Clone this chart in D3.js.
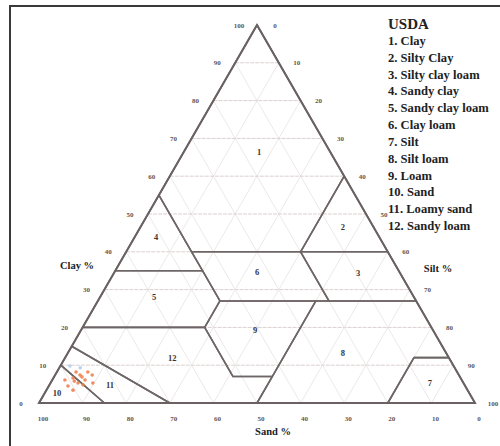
<!DOCTYPE html>
<html>
<meta charset='utf-8'>
<head>
<title>USDA soil texture triangle</title>
<script src='https://d3js.org/d3.v7.min.js'></script>
<style>
body { margin: 0; background: #fff; }
</style>
</head>
<body>
<div id='chart'></div>
<script>
// tick values on the three sides (percent)
var tickValues = [0, 10, 20, 30, 40, 50, 60, 70, 80, 90, 100]
var gridValues = [10, 20, 30, 40, 50, 60, 70, 80, 90]

var classNames = ['Clay', 'Silty Clay', 'Silty clay loam', 'Sandy clay', 'Sandy clay loam',
  'Clay loam', 'Silt', 'Silt loam', 'Loam', 'Sand', 'Loamy sand', 'Sandy loam']

// class polygons, each vertex as [clay %, silt %]
var classPolygons = [
  [[100, 0], [60, 40], [40, 40], [40, 15], [55, 0]],
  [[60, 40], [40, 60], [40, 40]],
  [[40, 60], [27, 73], [27, 53], [40, 40]],
  [[55, 0], [35, 0], [35, 20], [40, 15]],
  [[35, 0], [20, 0], [20, 28], [27, 28], [35, 20]],
  [[40, 15], [40, 40], [27, 53], [27, 28], [35, 20]],
  [[0, 100], [12, 88], [12, 80], [0, 80]],
  [[27, 73], [12, 88], [12, 80], [0, 80], [0, 50], [7, 50], [27, 50]],
  [[27, 50], [27, 28], [20, 28], [7, 41], [7, 50]],
  [[0, 0], [0, 15], [10, 0]],
  [[10, 0], [0, 15], [0, 30], [15, 0]],
  [[15, 0], [0, 30], [0, 50], [7, 50], [7, 41], [20, 28], [20, 0]]
]

// where each class number sits, [clay %, silt %]
var labelClay = [66.4, 46.6, 34.4, 43.9, 28, 34.7, 5.3, 13.2, 19.3, 2.6, 4.8, 11.9]
var labelSilt = [17.3, 46.4, 56, 4.9, 12.4, 32.7, 87, 63.1, 39.9, 2.8, 13.9, 24.6]

// measured samples
var sampleClay = [6.1, 6.6, 7.4, 6.1, 7.4, 5.3, 3.4, 4.8, 5.3, 4.5, 8.2, 8.2, 5.8, 6.9]
var sampleSilt = [2.9, 4.5, 5.7, 7.5, 8.5, 9.7, 6.1, 7.7, 6.3, 4.4, 4.4, 7.1, 5.2, 6.4]
var blueClay = [9.8, 9.3]
var blueSilt = [2.2, 4.8]

var width = 500, height = 446

var svg = d3.select('#chart')
  .append('svg')
    .attr('width', width)
    .attr('height', height)

// frame (runs off the right and bottom of the picture)
svg.append('rect')
  .attr('x', 10).attr('y', 6)
  .attr('width', 500).attr('height', 460)
  .attr('fill', 'none')
  .attr('stroke', '#3a3a3a')
  .attr('stroke-width', 2)

var xs = d3.scaleLinear().domain([0, 100]).range([39, 475])
var ys = d3.scaleLinear().domain([0, 100]).range([403, 25])

function px(clay, silt) { return xs(silt + clay / 2) }
function py(clay) { return ys(clay) }

var g = svg.append('g')

// grid
gridValues.forEach(function(k) {
  // clay = k (horizontal)
  g.append('line')
    .attr('x1', px(k, 0)).attr('y1', py(k))
    .attr('x2', px(k, 100 - k)).attr('y2', py(k))
    .attr('stroke', '#dccfcf').attr('stroke-width', 1)
    .attr('stroke-dasharray', '4,1')
  // silt = k
  g.append('line')
    .attr('x1', px(100 - k, k)).attr('y1', py(100 - k))
    .attr('x2', px(0, k)).attr('y2', py(0))
    .attr('stroke', '#e6e2e2').attr('stroke-width', 0.8)
  // sand = k
  g.append('line')
    .attr('x1', px(100 - k, 0)).attr('y1', py(100 - k))
    .attr('x2', px(0, 100 - k)).attr('y2', py(0))
    .attr('stroke', '#e6e2e2').attr('stroke-width', 0.8)
})

var line = d3.line()
  .x(function(d) { return px(d[0], d[1]) })
  .y(function(d) { return py(d[0]) })

g.selectAll('.cls')
  .data(classPolygons)
  .enter()
  .append('path')
    .attr('class', 'cls')
    .attr('d', function(d) { return line(d) + 'Z' })
    .attr('fill', 'none')
    .attr('stroke', '#6e6666')
    .attr('stroke-width', 1.6)
    .attr('stroke-linejoin', 'round')

// outer triangle
g.append('path')
  .attr('d', line([[0, 0], [100, 0], [0, 100]]) + 'Z')
  .attr('fill', 'none')
  .attr('stroke', '#6a6262')
  .attr('stroke-width', 2)

// samples
g.selectAll('.blue')
  .data(blueClay)
  .enter()
  .append('circle')
    .attr('cx', function(d, i) { return px(d, blueSilt[i]) })
    .attr('cy', function(d) { return py(d) })
    .attr('r', 1.8)
    .attr('fill', '#b9d3ea')
g.selectAll('.pt')
  .data(sampleClay)
  .enter()
  .append('circle')
    .attr('cx', function(d, i) { return px(d, sampleSilt[i]) })
    .attr('cy', function(d) { return py(d) })
    .attr('r', 1.8)
    .attr('fill', '#ef7a45')
    .attr('opacity', 0.85)

// tick labels
var tickStyle = 'bold 7px Liberation Serif'
g.selectAll('.clayTick')
  .data(tickValues)
  .enter()
  .append('text')
    .attr('x', function(d) { return px(d, 0) - 18 })
    .attr('y', function(d) { return py(d) + 2.5 })
    .attr('text-anchor', 'middle')
    .style('font', tickStyle)
    .attr('fill', '#5e5656')
    .text(function(d) { return d })
g.selectAll('.siltTick')
  .data(tickValues)
  .enter()
  .append('text')
    .attr('x', function(d) { return px(100 - d, d) + 18 })
    .attr('y', function(d) { return py(100 - d) + 2.5 })
    .attr('text-anchor', 'middle')
    .style('font', tickStyle)
    .attr('fill', '#5e5656')
    .text(function(d) { return d })
g.selectAll('.sandTick')
  .data(tickValues)
  .enter()
  .append('text')
    .attr('x', function(d) { return px(0, 100 - d) + 4 })
    .attr('y', py(0) + 17.5)
    .attr('text-anchor', 'middle')
    .style('font', tickStyle)
    .attr('fill', '#5e5656')
    .text(function(d) { return d })

// axis titles
var titleStyle = 'bold 10.5px Liberation Serif'
g.append('text').attr('x', 77).attr('y', 269).attr('text-anchor', 'middle')
  .style('font', titleStyle).attr('fill', '#222').text('Clay %')
g.append('text').attr('x', 438).attr('y', 272).attr('text-anchor', 'middle')
  .style('font', titleStyle).attr('fill', '#222').text('Silt %')
g.append('text').attr('x', 273).attr('y', 435).attr('text-anchor', 'middle')
  .style('font', titleStyle).attr('fill', '#222').text('Sand %')

// class numbers
g.selectAll('.num')
  .data(labelClay)
  .enter()
  .append('text')
    .attr('x', function(d, i) { return px(d, labelSilt[i]) })
    .attr('y', function(d) { return py(d) + 3 })
    .attr('text-anchor', 'middle')
    .style('font', 'bold 8.5px Liberation Serif')
    .attr('fill', '#3a3434')
    .text(function(d, i) { return i + 1 })

// legend
var legend = svg.append('g').attr('transform', 'translate(388,0)')
legend.append('text')
  .attr('x', 0).attr('y', 29)
  .style('font', 'bold 15px Liberation Serif')
  .attr('fill', '#222')
  .text('USDA')
var ly = d3.scaleLinear().domain([0, 11]).range([41, 226])
legend.selectAll('.item')
  .data(classNames)
  .enter()
  .append('text')
    .attr('x', 0)
    .attr('y', function(d, i) { return ly(i) + 4 })
    .style('font', 'bold 12.6px Liberation Serif')
    .attr('fill', '#222')
    .text(function(d, i) { return (i + 1) + '. ' + d })
</script>
</body>
</html>
